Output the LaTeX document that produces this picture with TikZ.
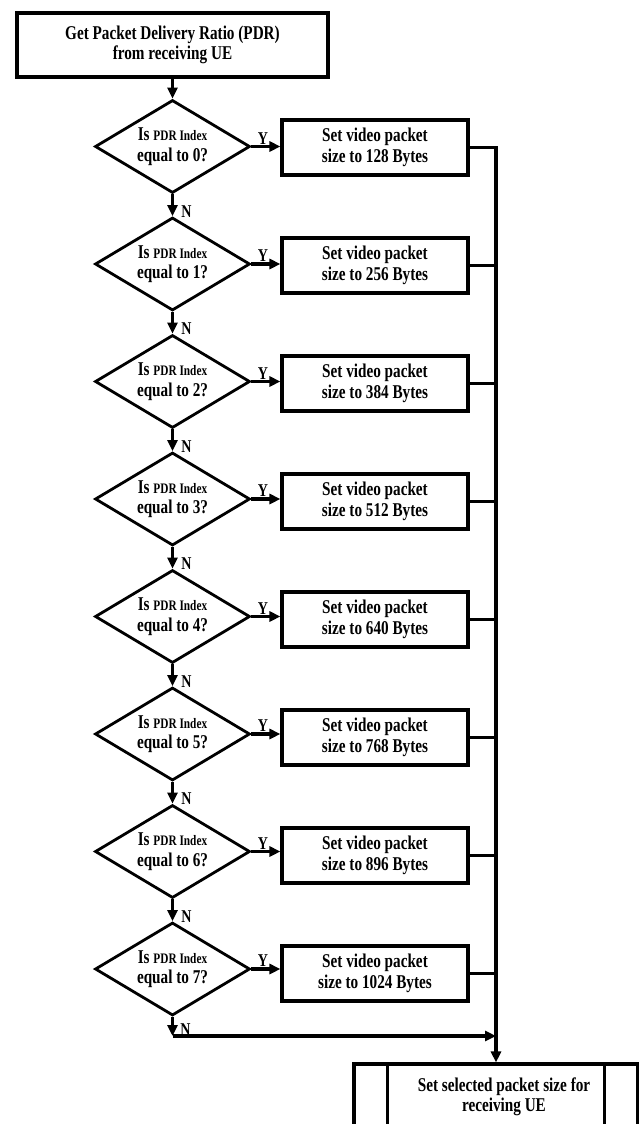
\documentclass[tikz,border=0pt]{standalone}
\usepackage{fontspec}
\setmainfont{Liberation Serif}[FakeStretch=0.78]
\usetikzlibrary{shapes.geometric,arrows.meta}
\begin{document}
\begin{tikzpicture}[x=1pt,y=-1pt,
  every node/.style={font=\bfseries\fontsize{19.5}{20.5}\selectfont, align=center, inner sep=0pt},
  ln/.style={line width=3.1pt},
  arr/.style={ln, -{Triangle[length=11pt,width=10pt]}},
  procbox/.style={draw, ln, rectangle},
  decbox/.style={draw, line width=2.8pt, diamond, shape aspect=1.67, minimum width=155pt, minimum height=93pt},
  lbl/.style={font=\bfseries\fontsize{18}{18}\selectfont}
]
\clip (0,0) rectangle (639,1124);
\useasboundingbox (0,0) rectangle (639,1124);
\newcommand{\pdr}{{\fontsize{14.5}{20}\selectfont PDR Index}}

\node[procbox, minimum width=311pt, minimum height=64pt] (top) at (172.5,45)
  {Get Packet Delivery Ratio (PDR)\\from receiving UE};

\foreach \i/\s in {0/128,1/256,2/384,3/512,4/640,5/768,6/896,7/1024}{
  \pgfmathsetmacro{\dy}{146.5+117.5*\i}
  \pgfmathsetmacro{\by}{147.5+118*\i}
  \node[decbox] (d\i) at (172.5,\dy) {Is \pdr\\equal to \i?};
  \node[procbox, minimum width=186pt, minimum height=55pt] (b\i) at (375,\by)
    {Set video packet\\size to \s{} Bytes};
  \draw[arr] (d\i.east) -- (d\i.east -| b\i.west);
  \node[lbl] (y\i) at (263,\dy-8) {Y};
}

\node[procbox, minimum width=284pt, minimum height=80pt] (end) at (496,1104) {};
\node (endtxt) at (504,1097) {Set selected packet size for\\receiving UE};
\draw[ln] ([xshift=35pt]end.north west) -- ([xshift=35pt]end.south west);
\draw[ln] ([xshift=-35pt]end.north east) -- ([xshift=-35pt]end.south east);

\draw[arr] (top.south) -- (d0.north);
\foreach \i/\j in {0/1,1/2,2/3,3/4,4/5,5/6,6/7}{
  \draw[arr] (d\i.south) -- (d\j.north);
  \node[lbl] (n\i) at ([xshift=14pt,yshift=-17pt]d\i.south) {N};
}
\node[lbl] (n7) at ([xshift=13pt,yshift=-13pt]d7.south) {N};

% bus
\coordinate (bustop) at (b0.east -| end.north);
\draw[arr] (b0.east) -- (bustop) -- (end.north);
\foreach \i in {1,...,7}{
  \draw[ln] (b\i.east) -- (b\i.east -| end.north);
}
\coordinate (nj) at (d7.south |- 0,1036);
\draw[arr] (d7.south) -- (nj);
\draw[arr] (nj) -- (nj -| end.north);
\end{tikzpicture}
\end{document}
